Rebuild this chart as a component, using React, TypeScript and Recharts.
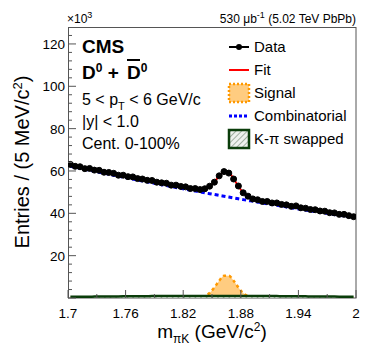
import { ComposedChart, Line, Area, XAxis, YAxis, Legend } from 'recharts'

const FONT = "'Liberation Sans', Arial, Helvetica, sans-serif"

// bin centres, 5 MeV bins from 1.7 to 2.0 GeV/c^2
const mass = [
  1.7025, 1.7075, 1.7125, 1.7175, 1.7225, 1.7275, 1.7325, 1.7375, 1.7425, 1.7475,
  1.7525, 1.7575, 1.7625, 1.7675, 1.7725, 1.7775, 1.7825, 1.7875, 1.7925, 1.7975,
  1.8025, 1.8075, 1.8125, 1.8175, 1.8225, 1.8275, 1.8325, 1.8375, 1.8425, 1.8475,
  1.8525, 1.8575, 1.8625, 1.8675, 1.8725, 1.8775, 1.8825, 1.8875, 1.8925, 1.8975,
  1.9025, 1.9075, 1.9125, 1.9175, 1.9225, 1.9275, 1.9325, 1.9375, 1.9425, 1.9475,
  1.9525, 1.9575, 1.9625, 1.9675, 1.9725, 1.9775, 1.9825, 1.9875, 1.9925, 1.9975,
]

// entries in units of 10^3
const entries = [
  63.1, 62.2, 62.0, 61.1, 61.2, 60.4, 60.3, 59.4, 59.3, 58.9,
  58.0, 58.0, 57.3, 57.2, 56.4, 56.2, 55.6, 55.5, 54.7, 54.4,
  54.2, 53.3, 53.3, 52.7, 52.5, 51.7, 51.7, 51.2, 51.6, 52.8,
  54.7, 57.7, 59.7, 59.0, 56.2, 52.9, 49.7, 48.1, 46.8, 46.4,
  45.6, 45.6, 44.9, 44.9, 44.2, 44.0, 43.3, 43.5, 42.6, 42.4,
  41.8, 41.7, 41.1, 41.0, 40.3, 40.2, 39.5, 39.5, 38.9, 38.4,
]

const fit = [
  62.81, 62.35, 61.89, 61.43, 60.97, 60.52, 60.07, 59.62, 59.18, 58.74,
  58.30, 57.86, 57.42, 56.99, 56.56, 56.13, 55.71, 55.29, 54.86, 54.44,
  54.01, 53.59, 53.17, 52.75, 52.34, 51.93, 51.57, 51.36, 51.55, 52.62,
  54.82, 57.61, 59.53, 59.13, 56.40, 52.79, 49.77, 47.89, 46.88, 46.28,
  45.84, 45.45, 45.05, 44.66, 44.26, 43.87, 43.48, 43.09, 42.71, 42.33,
  41.95, 41.57, 41.19, 40.82, 40.45, 40.08, 39.72, 39.36, 39.00, 38.64,
]

const signal = [
  0, 0, 0, 0, 0, 0, 0, 0, 0, 0,
  0, 0, 0, 0, 0, 0, 0, 0, 0, 0,
  0, 0, 0, 0, 0, 0, 0.05, 0.25, 0.86, 2.34,
  4.95, 8.15, 10.47, 10.47, 8.15, 4.95, 2.34, 0.86, 0.25, 0.05,
  0, 0, 0, 0, 0, 0, 0, 0, 0, 0,
  0, 0, 0, 0, 0, 0, 0, 0, 0, 0,
]

const combinatorial = [
  62.26, 61.78, 61.30, 60.82, 60.34, 59.87, 59.40, 58.93, 58.47, 58.01,
  57.55, 57.09, 56.63, 56.18, 55.73, 55.28, 54.84, 54.40, 53.96, 53.52,
  53.08, 52.65, 52.22, 51.79, 51.37, 50.95, 50.53, 50.11, 49.69, 49.28,
  48.87, 48.46, 48.06, 47.66, 47.26, 46.86, 46.46, 46.07, 45.68, 45.29,
  44.91, 44.53, 44.15, 43.77, 43.39, 43.02, 42.65, 42.28, 41.92, 41.56,
  41.20, 40.84, 40.48, 40.13, 39.78, 39.43, 39.09, 38.75, 38.41, 38.07,
]

const swapped = [
  0.55, 0.57, 0.59, 0.61, 0.63, 0.65, 0.67, 0.69, 0.71, 0.73,
  0.75, 0.77, 0.79, 0.81, 0.83, 0.85, 0.87, 0.89, 0.90, 0.92,
  0.93, 0.94, 0.95, 0.96, 0.97, 0.98, 0.99, 1.00, 1.00, 1.00,
  1.00, 1.00, 1.00, 1.00, 0.99, 0.98, 0.97, 0.96, 0.95, 0.94,
  0.93, 0.92, 0.90, 0.89, 0.87, 0.85, 0.83, 0.81, 0.79, 0.77,
  0.75, 0.73, 0.71, 0.69, 0.67, 0.65, 0.63, 0.61, 0.59, 0.57,
]

const xTicks = [1.7, 1.73, 1.76, 1.79, 1.82, 1.85, 1.88, 1.91, 1.94, 1.97, 2.0]
const xMajor = [1.7, 1.76, 1.82, 1.88, 1.94, 2.0]
const xMajorLabels = ['1.7', '1.76', '1.82', '1.88', '1.94', '2']
const yTicks = [0, 4, 8, 12, 16, 20, 24, 28, 32, 36, 40, 44, 48, 52, 56, 60, 64, 68, 72, 76, 80, 84, 88, 92, 96, 100, 104, 108, 112, 116, 120, 124]
const yLabels = [20, 40, 60, 80, 100, 120]

const legendNames = ['Data', 'Fit', 'Signal', 'Combinatorial', 'K-\u03c0 swapped']

const rows = mass.map((m, i) => ({
  m,
  data: entries[i],
  fit: fit[i],
  signal: signal[i],
  comb: combinatorial[i],
  swap: swapped[i],
}))

const XTick = (props: any) => {
  const { x, y, payload } = props
  const idx = xMajor.findIndex(v => Math.abs(v - payload.value) < 1e-6)
  const major = idx >= 0
  return (
    <g>
      <line x1={x} x2={x} y1={y} y2={y - (major ? 8 : 4)} stroke="#555" />
      {major && (
        <text x={x} y={y + 20} textAnchor="middle" fontSize={13.5} fontFamily={FONT} fill="#000">
          {xMajorLabels[idx]}
        </text>
      )}
    </g>
  )
}

const YTick = (props: any) => {
  const { x, y, payload } = props
  const major = payload.value % 20 === 0
  return (
    <g>
      <line x1={x} x2={x + (major ? 8 : 4)} y1={y} y2={y} stroke="#555" />
      {major && yLabels.includes(payload.value) && (
        <text x={x - 3} y={y + 5} textAnchor="end" fontSize={13.5} fontFamily={FONT} fill="#000">
          {payload.value}
        </text>
      )}
    </g>
  )
}

const legendIcon = (i: number) => {
  if (i === 0) return (<g><line x1={2} x2={22} y1={11} y2={11} stroke="#000" strokeWidth={2} /><circle cx={12} cy={11} r={3} fill="#000" /></g>)
  if (i === 1) return <line x1={2} x2={22} y1={11} y2={11} stroke="#ff0000" strokeWidth={2} />
  if (i === 2) return <rect x={2} y={2} width={20} height={18} fill="#ffcc80" stroke="#ff9900" strokeWidth={2.5} strokeDasharray="2 2" />
  if (i === 3) return <line x1={2} x2={22} y1={11} y2={11} stroke="#0000ff" strokeWidth={3} strokeDasharray="3 2" />
  return (
    <g>
      <defs>
        <pattern id="hatchL" width="4" height="4" patternUnits="userSpaceOnUse" patternTransform="rotate(45)">
          <rect width="4" height="4" fill="#eef2ee" />
          <line x1="0" y1="0" x2="0" y2="4" stroke="#8f9f8f" strokeWidth="1.6" />
        </pattern>
      </defs>
      <rect x={2} y={2} width={20} height={18} fill="url(#hatchL)" stroke="#0a3d0a" strokeWidth={2.5} />
    </g>
  )
}

const LegendBox = () => (
  <div style={{ fontFamily: FONT, fontSize: 15, color: '#000' }}>
    {legendNames.map((name, i) => (
      <div key={name} style={{ display: 'flex', alignItems: 'center', height: 23 }}>
        <svg width={24} height={22}>{legendIcon(i)}</svg>
        <span style={{ marginLeft: 3 }}>{name}</span>
      </div>
    ))}
  </div>
)

export default function App() {
  return (
    <div style={{ position: 'absolute', left: 0, top: 0, width: 366, height: 351, background: '#fff', fontFamily: FONT }}>
      <svg width={366} height={351} style={{ position: 'absolute', left: 0, top: 0 }} fontFamily={FONT}>
        <rect x={68.5} y={27.5} width={287.5} height={270.5} fill="none" stroke="#555" />
        <text x={67} y={23} fontSize={12}>×10<tspan dy={-5} fontSize={9}>3</tspan></text>
        <text x={356} y={23} fontSize={12} textAnchor="end">
          530 μb<tspan dy={-5} fontSize={9}>-1</tspan><tspan dy={5}> (5.02 TeV PbPb)</tspan>
        </text>
        <text x={82} y={53} fontSize={19} fontWeight="bold">CMS</text>
        <text x={82} y={79} fontSize={19} fontWeight="bold">D<tspan dy={-7} fontSize={12}>0</tspan><tspan dy={7}> + </tspan></text>
        <text x={127} y={79} fontSize={19} fontWeight="bold">D<tspan dy={-7} fontSize={12}>0</tspan></text>
        <line x1={127} x2={140} y1={60} y2={60} stroke="#000" strokeWidth={2} />
        <text x={82} y={105} fontSize={16}>5 &lt; p<tspan dy={5} fontSize={11}>T</tspan><tspan dy={-5}> &lt; 6 GeV/c</tspan></text>
        <text x={82} y={127} fontSize={16}>|y| &lt; 1.0</text>
        <text x={82} y={149} fontSize={16}>Cent. 0-100%</text>
        <text transform="translate(29,162) rotate(-90)" textAnchor="middle" fontSize={20}>
          Entries / (5 MeV/c<tspan dy={-7} fontSize={13}>2</tspan><tspan dy={7}>)</tspan>
        </text>
        <text x={212} y={338} textAnchor="middle" fontSize={19}>
          m<tspan dy={5} fontSize={12}>πK</tspan><tspan dy={-5}> (GeV/c</tspan><tspan dy={-7} fontSize={12}>2</tspan><tspan dy={7}>)</tspan>
        </text>
      </svg>
      <div style={{ position: 'absolute', left: 0, top: 0 }}>
        <ComposedChart width={366} height={351} data={rows} margin={{ top: 27, right: 10, bottom: 0, left: 0 }}>
          <defs>
            <pattern id="hatch" width="4" height="4" patternUnits="userSpaceOnUse" patternTransform="rotate(45)">
              <rect width="4" height="4" fill="#eef2ee" />
              <line x1="0" y1="0" x2="0" y2="4" stroke="#8f9f8f" strokeWidth="1.6" />
            </pattern>
          </defs>
          <XAxis dataKey="m" type="number" domain={[1.7, 2.0]} ticks={xTicks} interval={0} height={53}
            tickSize={0} tickMargin={0} tick={XTick} axisLine={false} tickLine={false} allowDataOverflow />
          <YAxis type="number" domain={[0, 128]} ticks={yTicks} interval={0} width={68}
            tickSize={0} tickMargin={0} tick={YTick} axisLine={false} tickLine={false} allowDataOverflow />
          <Area dataKey="signal" type="monotone" fill="#ffcc80" fillOpacity={1} stroke="#ff9900"
            strokeWidth={2.5} strokeDasharray="3 3" isAnimationActive={false} />
          <Area dataKey="swap" type="monotone" fill="url(#hatch)" fillOpacity={1} stroke="#0a3d0a"
            strokeWidth={2.5} isAnimationActive={false} />
          <Line dataKey="comb" type="monotone" stroke="#0000ff" strokeWidth={3} strokeDasharray="4 3"
            dot={false} isAnimationActive={false} />
          <Line dataKey="fit" type="monotone" stroke="#ff0000" strokeWidth={2} dot={false} isAnimationActive={false} />
          <Line dataKey="data" stroke="none" dot={{ r: 3, fill: '#000', stroke: '#000', strokeWidth: 1 }}
            activeDot={false} isAnimationActive={false} />
          <Legend verticalAlign="middle" align="center" layout="horizontal"
            wrapperStyle={{ left: 227, top: 35, width: 135, height: 118 }} content={LegendBox} />
        </ComposedChart>
      </div>
    </div>
  )
}
